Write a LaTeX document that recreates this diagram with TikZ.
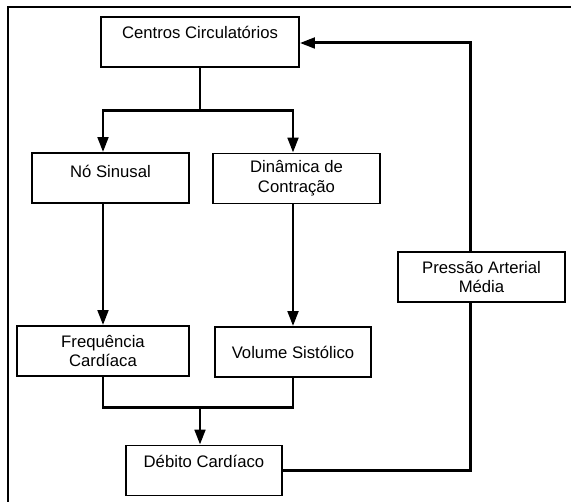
\documentclass[tikz,border=0pt]{standalone}
\usepackage{fontspec}
\setmainfont{Liberation Sans}
\usetikzlibrary{arrows.meta,calc}
\tikzset{
  box/.style={draw,line width=1pt,minimum height=1cm,inner sep=0pt,align=center,
    font=\fontsize{9.5}{11.3}\selectfont},
  lift/.style={text height=7pt,text depth=#1},
  conn/.style={line width=1.7pt},
  arr/.style={line width=1.7pt,-{Triangle[length=8.5pt,width=6pt]}}
}
\begin{document}
\begin{tikzpicture}[x=0.02cm,y=-0.02cm]
\useasboundingbox (0,0) rectangle (571,502);
\draw [line width=0.6pt] (8,502) -- (8,7) -- (571,7);
\node [box,lift=10.8pt,minimum width=3.96cm] (cc) at (200,42) {Centros Circulatórios};
\node [box,lift=7.4pt,minimum width=3.14cm] (ns) at (110.5,178) {Nó Sinusal};
\node [box,minimum width=3.34cm] (dc) at (296.5,178.5) {Dinâmica de\\Contração};
\node [box,minimum width=3.44cm] (fc) at (103,351) {Frequência\\Cardíaca};
\node [box,minimum width=3.12cm] (vs) at (293,352) {Volume Sistólico};
\node [box,minimum width=3.34cm] (pam) at (481.5,277) {Pressão Arterial\\Média};
\node [box,lift=10.2pt,minimum width=3.12cm] (dcar) at (204,470.5) {Débito Cardíaco};
\draw [conn] (cc.south) -- ++(0,43) coordinate (split);
\draw [arr] (split) -| (ns.north -| fc.north);
\draw [arr] (split) -| (dc.north -| vs.north);
\draw [arr] (ns.south -| fc.north) -- (fc.north);
\draw [arr] (dc.south -| vs.north) -- (vs.north);
\draw [conn] (fc.south) -- ++(0,31) coordinate (join) -| (vs.south);
\draw [arr] (join -| cc.south) -- (dcar.north -| cc.south);
\draw [conn] (dcar.east) -| ($(pam.south)+(-11,0)$);
\draw [arr] ($(pam.north)+(-11,0)$) |- ($(cc.east)+(0,1)$);
\end{tikzpicture}
\end{document}
